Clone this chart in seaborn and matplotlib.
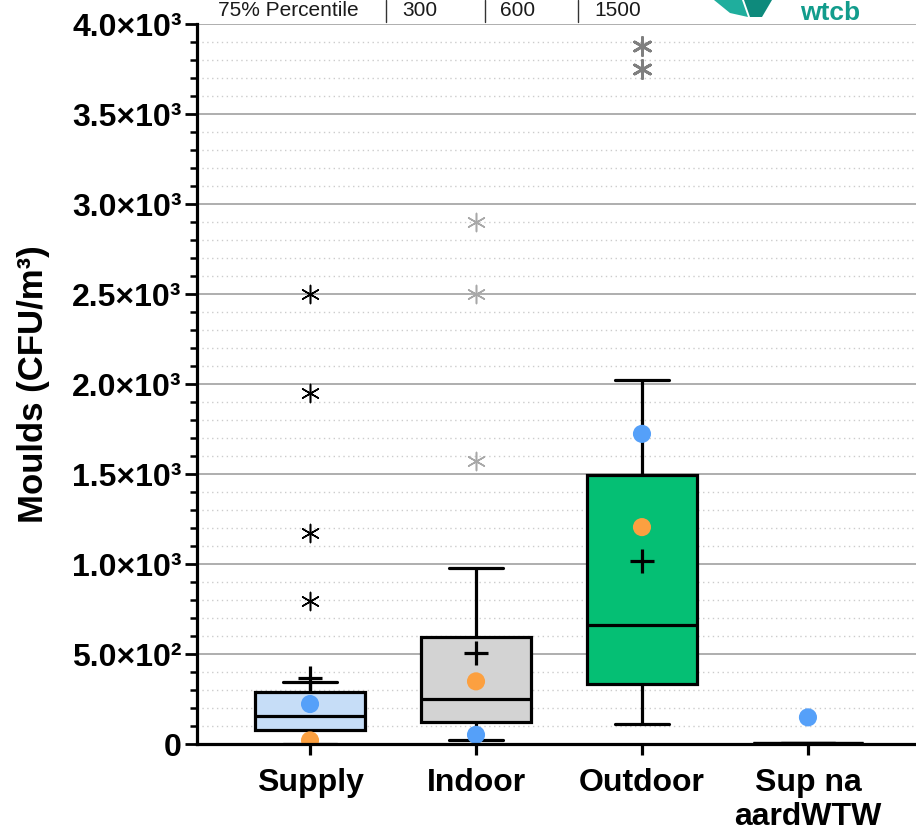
import numpy as np
import pandas as pd
import matplotlib
matplotlib.use("Agg")
import matplotlib.pyplot as plt
from matplotlib.lines import Line2D
from matplotlib.patches import Polygon
from matplotlib.ticker import FixedLocator, MultipleLocator
import seaborn as sns

# ---------------- data ----------------
categories = ["Supply", "Indoor", "Outdoor", "Sup na\naardWTW"]
# five-number summaries: whisker low, Q1, median, Q3, whisker high
box_low = [0, 23, 113, 8]
box_q1 = [78, 121, 332, 8]
box_med = [155, 249, 662, 8]
box_q3 = [290, 593, 1493, 8]
box_high = [344, 977, 2022, 8]
means = [365, 505, 1017, None]
blue_dots = [222, 51, 1723, 148]
orange_dots = [20, 348, 1205, None]
supply_outliers = [2500, 1950, 1172, 795]
indoor_outliers = [2898, 2500, 1574]
outdoor_outliers = [3878, 3750]
box_colors = ["#c6ddf7", "#d3d3d3", "#05bf74", "#ffffff"]
ytick_values = [0, 500, 1000, 1500, 2000, 2500, 3000, 3500, 4000]
ytick_labels = ["0", "5.0×10²", "1.0×10³", "1.5×10³", "2.0×10³",
                "2.5×10³", "3.0×10³", "3.5×10³", "4.0×10³"]
table_labels = ["75% Percentile", "300", "600", "1500"]
ylabel = "Moulds (CFU/m³)"

# ---------------- style ----------------
sns.set_style("white")
plt.rcParams["font.family"] = ["Liberation Sans", "DejaVu Sans"]
plt.rcParams["text.color"] = "black"
plt.rcParams["axes.labelcolor"] = "black"
plt.rcParams["xtick.color"] = "black"
plt.rcParams["ytick.color"] = "black"

W, H = 916, 832
fig = plt.figure(figsize=(W / 100, H / 100), dpi=100)
ax = fig.add_axes([197 / W, 88 / H, (W - 197) / W, 720 / H])

rows = []
for c, lo, q1, md, q3, hi in zip(categories, box_low, box_q1, box_med, box_q3, box_high):
    for v in (lo, q1, md, q3, hi):
        rows.append({"cat": c, "val": v})
df = pd.DataFrame(rows)

sns.boxplot(data=df, x="cat", y="val", hue="cat", order=categories,
            hue_order=categories, palette=box_colors, legend=False,
            saturation=1, whis=np.inf, width=0.66, linecolor="black",
            linewidth=2.3, showfliers=False, ax=ax, zorder=3)

pos = {c: i for i, c in enumerate(categories)}

def scatter(vals, cat, **kw):
    sns.scatterplot(x=[pos[cat]] * len(vals), y=vals, ax=ax, legend=False,
                    zorder=6, clip_on=True, **kw)

ast = (6, 2, 0)
scatter(supply_outliers, categories[0], marker=ast, s=170, color="black", linewidth=1.1)
scatter(indoor_outliers, categories[1], marker=ast, s=170, color="#a8a8a8", linewidth=1.1)
scatter(outdoor_outliers, categories[2], marker=ast, s=170, color="#7f7f7f", linewidth=2.0)

# dots
bx = [i for i, v in enumerate(blue_dots) if v is not None]
by = [v for v in blue_dots if v is not None]
sns.scatterplot(x=bx, y=by, ax=ax, s=170, color="#55a0f9", edgecolor="none",
                legend=False, zorder=7)
ox = [i for i, v in enumerate(orange_dots) if v is not None]
oy = [v for v in orange_dots if v is not None]
sns.scatterplot(x=ox, y=oy, ax=ax, s=170, color="#fca040", edgecolor="none",
                legend=False, zorder=7)
mx = [i for i, v in enumerate(means) if v is not None]
my = [v for v in means if v is not None]
sns.scatterplot(x=mx, y=my, ax=ax, marker="+", s=300, color="black",
                linewidth=2.3, legend=False, zorder=8)

# axes
ax.set_xlim(-0.681, 3.651)
ax.set_ylim(0, 4000)
ax.yaxis.set_major_locator(FixedLocator(ytick_values))
ax.set_yticklabels(ytick_labels)
ax.yaxis.set_minor_locator(MultipleLocator(100))
ax.set_axisbelow(True)
ax.yaxis.grid(True, which="major", color="#a8a8a8", lw=1.3, ls="-", zorder=0)
ax.yaxis.grid(True, which="minor", color="#cccccc", lw=1.0, ls=(0, (1, 2.5)), zorder=0)
ax.xaxis.grid(False)

for s in ("top", "right"):
    ax.spines[s].set_visible(False)
for s in ("left", "bottom"):
    ax.spines[s].set_linewidth(2.3)
    ax.spines[s].set_color("black")
    ax.spines[s].set_zorder(9)

ax.tick_params(axis="y", which="major", length=9, width=2.0, direction="out",
               pad=2, labelsize=23, left=True, color="black", labelcolor="black")
ax.tick_params(axis="y", which="minor", length=5, width=1.8, direction="out",
               left=True, color="black")
ax.tick_params(axis="x", which="major", length=8, width=2.3, direction="out",
               pad=9, labelsize=23, bottom=True, color="black", labelcolor="black")
for lab in ax.get_yticklabels() + ax.get_xticklabels():
    lab.set_fontweight("bold")
for lab in ax.get_xticklabels():
    lab.set_linespacing(1.2)

ax.set_xlabel("")
ax.set_ylabel(ylabel, fontsize=25, fontweight="bold", color="black")
ax.yaxis.set_label_coords(-(197 - 50) / (W - 197), 0.5)

# top table (cropped in the original, kept just inside here)
ty = (H - 16) / H
xs = [218, 402, 500, 594]
for x, t in zip(xs, table_labels):
    fig.text(x / W, ty, t, fontsize=15, va="baseline", ha="left", color="#1a1a1a")
for x in (386, 485, 578):
    fig.add_artist(Line2D([x / W, x / W], [1, (H - 22) / H], color="#333333", lw=1.0))

# logo
fig.text(800 / W, (H - 20) / H, "wtcb", fontsize=19, color="#129c8c", va="baseline",
         ha="left", fontweight="bold")
def pg(pts, col):
    fig.add_artist(Polygon([(x / W, (H - y) / H) for x, y in pts], closed=True,
                           facecolor=col, edgecolor="none", transform=fig.transFigure))
pg([(714, 0), (742, 0), (748, 17), (730, 13)], "#1fae9d")
pg([(744, 0), (772, 0), (762, 17), (750, 17)], "#0e8a7c")

fig.savefig("out.png", dpi=100)
